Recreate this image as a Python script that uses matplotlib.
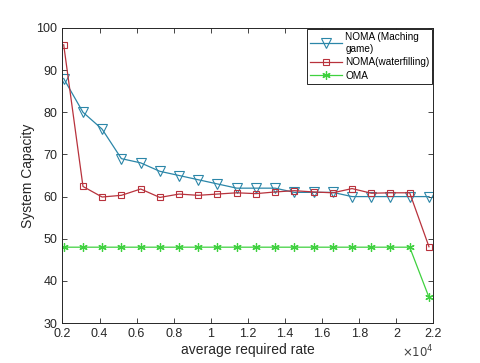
import numpy as np
from matplotlib import pyplot as plt
from matplotlib.ticker import FuncFormatter

plt.rcParams['font.family'] = ['Liberation Sans', 'DejaVu Sans']

rate = [2070, 3110, 4140, 5180, 6220, 7250, 8290, 9320, 10360, 11400,
        12430, 13470, 14500, 15540, 16580, 17610, 18650, 19680, 20720, 21760]
noma_match = [88, 80, 76, 69, 68, 66, 65, 64, 63, 62,
              62, 62, 61, 61, 61, 60, 60, 60, 60, 60]
noma_water = [96, 62.4, 59.9, 60.3, 61.8, 59.8, 60.6, 60.3, 60.6, 60.9,
              60.7, 61.1, 61.4, 61.1, 60.9, 61.9, 60.8, 60.9, 60.9, 48.1]
oma = [48] * 19 + [36.1]

fig = plt.figure(figsize=(4.8, 3.63), dpi=100)
ax = fig.add_axes([0.13, 0.11, 0.773, 0.813])

ax.plot(rate, noma_match, color='#2b86a8', lw=0.9, marker='v', ms=6.5,
        mfc='none', mec='#2b86a8', mew=0.8, label='NOMA (Maching\ngame)')
ax.plot(rate, noma_water, color='#b8323c', lw=0.9, marker='s', ms=5,
        mfc='none', mec='#b8323c', mew=0.8, label='NOMA(waterfilling)')
ax.plot(rate, oma, color='#3fd13f', lw=0.9, marker=(6, 2, 0), ms=6,
        mfc='none', mec='#3fd13f', mew=0.9, label='OMA')

ax.set_xlim(2000, 22000)
ax.set_ylim(30, 100)
ax.set_xticks(np.arange(2000, 22001, 2000))
ax.set_yticks(np.arange(30, 101, 10))
ax.xaxis.set_major_formatter(FuncFormatter(lambda v, p: '%g' % round(v / 1e4, 1)))
ax.tick_params(direction='in', top=True, right=True, labelsize=9,
               colors='#262626', length=3.5, width=0.6)
for s in ax.spines.values():
    s.set_linewidth(0.7)
    s.set_color('#262626')

ax.set_xlabel('average required rate', fontsize=10, color='#262626', labelpad=2)
ax.set_ylabel('System Capacity', fontsize=10, color='#262626', labelpad=1)
ax.text(1.0, -0.07, r'$\times10^4$', transform=ax.transAxes, ha='right',
        va='top', fontsize=8.5, color='#404040')

leg = ax.legend(loc='upper right', fontsize=7.2, fancybox=False, framealpha=1,
                edgecolor='#262626', borderpad=0.3, handlelength=3.2,
                handletextpad=0.3, labelspacing=0.35, borderaxespad=0.1)
leg.get_frame().set_linewidth(0.7)

fig.savefig('out.png', dpi=100)
